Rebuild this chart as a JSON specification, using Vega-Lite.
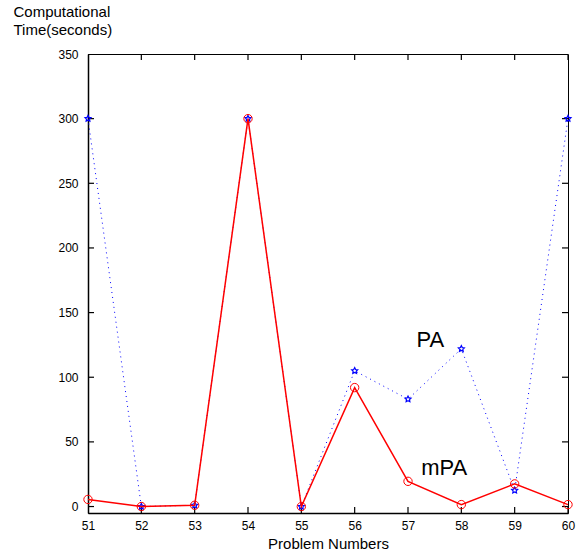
{
  "$schema": "https://vega.github.io/schema/vega-lite/v6.json",
  "width": 480,
  "height": 459,
  "autosize": {"type": "none"},
  "padding": {"left": 88, "top": 54, "right": 14, "bottom": 45},
  "background": "white",
  "config": {
    "view": {"stroke": "black", "strokeWidth": 1},
    "font": "Liberation Sans",
    "axis": {"grid": false, "domain": true, "domainColor": "black", "domainWidth": 1.5, "ticks": false, "labelFlush": false, "labelFont": "Liberation Sans", "labelFontSize": 12, "labelColor": "black", "titleFont": "Liberation Sans", "titleFontWeight": "normal", "titleColor": "black"}
  },
  "datasets": {
    "series": [
      {"problem": 51, "method": "PA", "time": 300},
      {"problem": 52, "method": "PA", "time": 0},
      {"problem": 53, "method": "PA", "time": 1},
      {"problem": 54, "method": "PA", "time": 300},
      {"problem": 55, "method": "PA", "time": 0},
      {"problem": 56, "method": "PA", "time": 105},
      {"problem": 57, "method": "PA", "time": 83},
      {"problem": 58, "method": "PA", "time": 122},
      {"problem": 59, "method": "PA", "time": 12.5},
      {"problem": 60, "method": "PA", "time": 300},
      {"problem": 51, "method": "mPA", "time": 5.5},
      {"problem": 52, "method": "mPA", "time": 0},
      {"problem": 53, "method": "mPA", "time": 1},
      {"problem": 54, "method": "mPA", "time": 300},
      {"problem": 55, "method": "mPA", "time": 0},
      {"problem": 56, "method": "mPA", "time": 92},
      {"problem": 57, "method": "mPA", "time": 19.5},
      {"problem": 58, "method": "mPA", "time": 1.5},
      {"problem": 59, "method": "mPA", "time": 17.5},
      {"problem": 60, "method": "mPA", "time": 1.5}
    ],
    "labels": [
      {"label": "PA", "problem": 57.42, "time": 129},
      {"label": "mPA", "problem": 57.68, "time": 30}
    ],
    "xticks": [{"v": 51}, {"v": 52}, {"v": 53}, {"v": 54}, {"v": 55}, {"v": 56}, {"v": 57}, {"v": 58}, {"v": 59}, {"v": 60}],
    "yticks": [{"v": 0}, {"v": 50}, {"v": 100}, {"v": 150}, {"v": 200}, {"v": 250}, {"v": 300}, {"v": 350}]
  },
  "layer": [
    {
      "data": {"name": "xticks"},
      "mark": {"type": "tick", "orient": "vertical", "size": 12, "thickness": 1.2, "color": "black", "opacity": 1, "clip": true},
      "encoding": {
        "x": {"field": "v", "type": "quantitative", "scale": {"domain": [51, 60], "nice": false, "zero": false},
          "axis": {"orient": "bottom", "values": [51, 52, 53, 54, 55, 56, 57, 58, 59, 60], "title": "Problem Numbers", "titleFontSize": 15, "titlePadding": 5, "labelPadding": 7}},
        "y": {"datum": -5, "type": "quantitative", "scale": {"domain": [-5, 350], "nice": false, "zero": false},
          "axis": {"orient": "left", "values": [0, 50, 100, 150, 200, 250, 300, 350], "title": ["Computational", "Time(seconds)"], "titleFontSize": 15, "titleAngle": 0, "titleAlign": "left", "titleBaseline": "top", "titleX": -75, "titleY": -50, "titleLineHeight": 18, "labelPadding": 10}}
      }
    },
    {
      "data": {"name": "xticks"},
      "mark": {"type": "tick", "orient": "vertical", "size": 12, "thickness": 1.2, "color": "black", "opacity": 1, "clip": true},
      "encoding": {
        "x": {"field": "v", "type": "quantitative"},
        "y": {"datum": 350, "type": "quantitative"}
      }
    },
    {
      "data": {"name": "yticks"},
      "mark": {"type": "tick", "orient": "horizontal", "size": 12, "thickness": 1.2, "color": "black", "opacity": 1, "clip": true},
      "encoding": {
        "y": {"field": "v", "type": "quantitative"},
        "x": {"datum": 51, "type": "quantitative"}
      }
    },
    {
      "data": {"name": "yticks"},
      "mark": {"type": "tick", "orient": "horizontal", "size": 12, "thickness": 1.2, "color": "black", "opacity": 1, "clip": true},
      "encoding": {
        "y": {"field": "v", "type": "quantitative"},
        "x": {"datum": 60, "type": "quantitative"}
      }
    },
    {
      "data": {"name": "series"},
      "transform": [{"filter": "datum.method === 'PA'"}],
      "mark": {"type": "line", "color": "blue", "strokeWidth": 1, "strokeDash": [1, 4]},
      "encoding": {
        "x": {"field": "problem", "type": "quantitative"},
        "y": {"field": "time", "type": "quantitative"}
      }
    },
    {
      "data": {"name": "series"},
      "transform": [{"filter": "datum.method === 'PA'"}],
      "mark": {"type": "point", "shape": "M0,-1L0.29,-0.4L0.95,-0.31L0.48,0.15L0.59,0.81L0,0.5L-0.59,0.81L-0.48,0.15L-0.95,-0.31L-0.29,-0.4Z", "color": "blue", "filled": false, "size": 40, "strokeWidth": 1.2, "opacity": 1},
      "encoding": {
        "x": {"field": "problem", "type": "quantitative"},
        "y": {"field": "time", "type": "quantitative"}
      }
    },
    {
      "data": {"name": "series"},
      "transform": [{"filter": "datum.method === 'mPA'"}],
      "mark": {"type": "line", "color": "red", "strokeWidth": 1.5},
      "encoding": {
        "x": {"field": "problem", "type": "quantitative"},
        "y": {"field": "time", "type": "quantitative"}
      }
    },
    {
      "data": {"name": "series"},
      "transform": [{"filter": "datum.method === 'mPA'"}],
      "mark": {"type": "point", "shape": "circle", "color": "red", "filled": false, "size": 70, "strokeWidth": 1, "opacity": 1},
      "encoding": {
        "x": {"field": "problem", "type": "quantitative"},
        "y": {"field": "time", "type": "quantitative"}
      }
    },
    {
      "data": {"name": "labels"},
      "mark": {"type": "text", "fontSize": 22, "color": "black", "font": "Liberation Sans"},
      "encoding": {
        "x": {"field": "problem", "type": "quantitative"},
        "y": {"field": "time", "type": "quantitative"},
        "text": {"field": "label"}
      }
    }
  ]
}
